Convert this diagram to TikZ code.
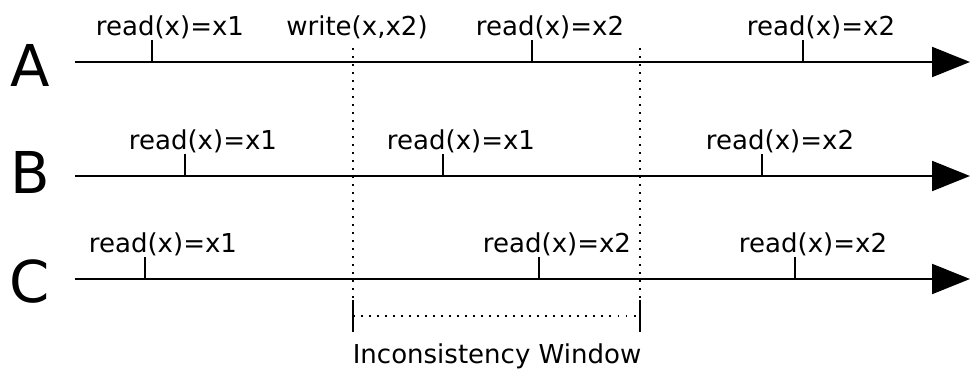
\documentclass[tikz,border=0pt]{standalone}
\usepackage{fontspec}
\setmainfont{DejaVu Sans}
\usetikzlibrary{arrows.meta,calc}

\tikzset{
  proc/.style={font=\fontsize{41}{41}\selectfont, inner sep=0pt},
  event/.style={font=\fontsize{18.5}{20}\selectfont, inner sep=0pt},
  timeline/.style={line width=1.5pt, -{Triangle[length=0.95cm,width=0.75cm]}},
  tick/.style={line width=1.5pt},
  window/.style={line width=1.3pt, dash pattern=on 1.4pt off 4.3pt},
}

\begin{document}
\begin{tikzpicture}[x=0.025cm, y=-0.025cm]
\useasboundingbox (0,0) rectangle (973,372);
% the three processes
\foreach \p/\y/\ly in {A/62/65, B/176/172, C/279/282}{
  \node[proc] (\p) at (30,\ly) {\p};
  \coordinate (\p0) at (75,\y);
  \coordinate (\p1) at (970,\y);
  \draw[timeline] (\p0) -- (\p1);
}
% reads seen by each process
\foreach \p/\y/\x/\v in {A/62/152/x1, A/62/532/x2, A/62/803/x2,
                        B/176/185/x1, B/176/443/x1, B/176/762/x2,
                        C/279/145/x1, C/279/539/x2, C/279/795/x2}{
  \coordinate (r\p\x) at (\x,\y);
  \draw[tick] (r\p\x) -- ++(0,-22);
  \node[event] (l\p\x) at ($(r\p\x)+(18,-35)$) {read(x)=\v};
}
% the write and the inconsistency window
\node[event] (wr) at (357,27) {write(x,x2)};
\coordinate (wa) at (353,48);
\coordinate (wb) at (353,300);
\coordinate (wc) at (353,332);
\coordinate (ea) at (640,48);
\coordinate (eb) at (640,300);
\coordinate (ec) at (640,332);
\draw[window] (wa) -- (wb);
\draw[window] (ea) -- (eb);
\draw[tick] (wb) -- (wc);
\draw[tick] (eb) -- (ec);
\draw[window] ($(wb)!0.5!(wc)$) -- ($(eb)!0.5!(ec)$);
\node[event] (win) at (497,356) {Inconsistency Window};
\end{tikzpicture}
\end{document}
